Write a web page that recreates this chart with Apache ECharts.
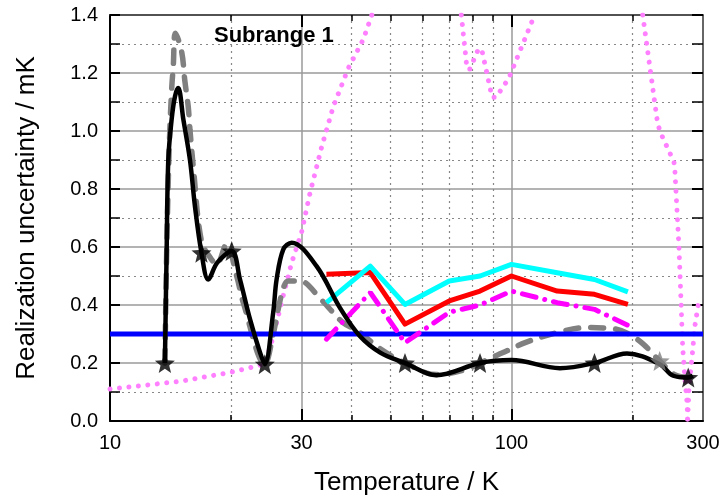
<!DOCTYPE html>
<html><head><meta charset="utf-8">
<script src="https://cdn.jsdelivr.net/npm/echarts@6/dist/echarts.min.js"></script>
<style>html,body{margin:0;padding:0;background:#fff}#c{width:723px;height:501px}</style>
</head><body><div id="c"></div>
<script>
// ---- tick labels / grid positions ----
const xTickLabels = [10, 30, 100, 300];
const xMajorGrid = [30, 100];
const xMinorGrid = [20, 40, 50, 60, 70, 80, 90, 200];

// ---- black solid smooth curve ----
const blackT = [13.7,13.84,13.97,14.24,14.52,14.79,15.23,15.82,16.28,16.9,17.57,18.5,20.1,21.08,22.32,23.64,24.3,25.5,26.0,27.02,28.35,32.7,37.4,41.9,47.1,54.3,65,83.5,100,132,161,194,234,253,275.6,283];
const blackU = [0.2,0.59,0.9,1.04,1.12,1.148,1.04,0.9,0.74,0.58,0.488,0.546,0.586,0.488,0.351,0.236,0.196,0.374,0.488,0.592,0.615,0.534,0.39,0.293,0.236,0.2,0.158,0.2,0.21,0.182,0.2,0.233,0.196,0.156,0.15,0.156];
// black star markers
const starT = [13.7,16.9,20.1,24.3,54.3,83.5,161,275.6];
const starU = [0.2,0.58,0.586,0.196,0.2,0.2,0.2,0.15];

// ---- grey dashed curve ----
const greyT = [13.7,13.85,14.05,14.24,14.38,14.55,15.08,15.37,15.66,15.82,16.12,16.9,17.9,18.45,19.5,20.68,21.48,24.3,25.5,26.8,27.8,29.7,33.5,38,41.5,47,54.3,65,77,88,95,109,130,154,180,196,213,234,255,275.6];
const greyU = [0.2,0.6,0.95,1.142,1.228,1.337,1.274,1.17,1.085,1.004,0.878,0.62,0.557,0.54,0.61,0.5,0.408,0.196,0.3,0.44,0.483,0.483,0.42,0.34,0.31,0.25,0.2,0.16,0.178,0.215,0.235,0.272,0.305,0.322,0.318,0.3,0.265,0.207,0.16,0.15];
const greyStarT = [234];
const greyStarU = [0.207];

// ---- pink dotted curve (null = leaves the plot) ----
const pinkT = [10,15,20,24.3,25.5,26.8,28.35,30,31.5,33.7,36,39.25,42.75,44.9,null,75.0,76.6,77.5,78.8,82.7,84.3,89.5,91.5,98.5,114.2,null,212.3,231.2,235,254,255.4,261.4,264.3,266.9,270.5,274.1,274.5,277,282.7,286.4,292];
const pinkU = [0.11,0.137,0.168,0.196,0.29,0.414,0.546,0.65,0.787,0.947,1.085,1.217,1.316,1.4,null,1.4,1.282,1.214,1.214,1.282,1.282,1.116,1.116,1.182,1.4,null,1.4,1.027,0.995,0.893,0.86,0.597,0.42,0.259,0.144,0.053,-0.01,0.12,0.242,0.328,0.402];

// ---- blue horizontal ----
const blueT = [10, 300];
const blueU = [0.3, 0.3];

// ---- red / cyan / magenta dash-dot ----
const colT = [34.6, 44.5, 54.3, 70, 83.5, 100, 130, 161, 195];
const redU = [0.506, 0.512, 0.334, 0.414, 0.448, 0.5, 0.448, 0.437, 0.402];
const cyanU = [0.408, 0.534, 0.402, 0.483, 0.5, 0.54, 0.511, 0.488, 0.445];
const magU = [0.282, 0.443, 0.27, 0.375, 0.4, 0.448, 0.408, 0.385, 0.33];

function pairs(xs, ys) {
  return xs.map((x, i) => (x === null || ys[i] === null) ? ['-', '-'] : [x, ys[i]]);
}

const FONT = 'Liberation Sans, Arial, sans-serif';
const starPath = 'path://M0,-10 L2.6,-3.4 L9.51,-3.09 L4.1,1.3 L5.88,8.09 L0,4.2 L-5.88,8.09 L-4.1,1.3 L-9.51,-3.09 L-2.6,-3.4 Z';

const xBase = { type: 'log', logBase: 10, min: 10, max: 300, gridIndex: 0 };
const chart = echarts.init(document.getElementById('c'), null, { renderer: 'canvas' });
chart.setOption({
  animation: false,
  backgroundColor: '#fff',
  title: {
    text: 'Subrange 1', left: 209, top: 20,
    textStyle: { fontFamily: FONT, fontSize: 22, fontWeight: 'bold', color: '#000' }
  },
  grid: { left: 110, right: 20, top: 15, bottom: 79, containLabel: false },
  xAxis: [
    Object.assign({}, xBase, {
      position: 'bottom',
      name: 'Temperature / K', nameLocation: 'middle', nameGap: 49,
      nameTextStyle: { fontFamily: FONT, fontSize: 26, color: '#000' },
      axisLine: { show: true, lineStyle: { color: '#000', width: 2 } },
      axisTick: { show: true, inside: true, length: 12, customValues: xMajorGrid, lineStyle: { color: '#000', width: 2 } },
      axisLabel: { show: true, customValues: xTickLabels, fontFamily: FONT, fontSize: 20, color: '#000', margin: 12 },
      splitLine: { show: true, lineStyle: { color: '#9a9a9a', width: 1.5 } },
      minorTick: { show: false }, minorSplitLine: { show: false }
    }),
    Object.assign({}, xBase, {
      position: 'bottom',
      axisLine: { show: false },
      axisTick: { show: true, inside: true, length: 6, customValues: xMinorGrid, lineStyle: { color: '#000', width: 1.5 } },
      axisLabel: { show: false },
      splitLine: { show: true, lineStyle: { color: '#888', width: 1.2, type: [2, 4] } }
    }),
    Object.assign({}, xBase, {
      position: 'top',
      axisLine: { show: true, lineStyle: { color: '#333', width: 1.5 } },
      axisTick: { show: true, inside: true, length: 12, customValues: xMajorGrid, lineStyle: { color: '#000', width: 2 } },
      axisLabel: { show: false }, splitLine: { show: false }
    }),
    Object.assign({}, xBase, {
      position: 'top',
      axisLine: { show: false },
      axisTick: { show: true, inside: true, length: 6, customValues: xMinorGrid, lineStyle: { color: '#000', width: 1.5 } },
      axisLabel: { show: false }, splitLine: { show: false }
    })
  ],
  yAxis: [
    {
      type: 'value', min: 0, max: 1.4, interval: 0.2, position: 'left',
      name: 'Realization uncertainty / mK', nameLocation: 'middle', nameGap: 70, nameRotate: 90,
      nameTextStyle: { fontFamily: FONT, fontSize: 26, color: '#000' },
      axisLine: { show: true, lineStyle: { color: '#000', width: 2 } },
      axisTick: { show: true, inside: true, length: 10, lineStyle: { color: '#000', width: 2 } },
      minorTick: { show: true, splitNumber: 2, length: 10, lineStyle: { color: '#000', width: 1.5 } },
      axisLabel: { fontFamily: FONT, fontSize: 20, color: '#000', margin: 12, formatter: v => v.toFixed(1) },
      splitLine: { show: true, lineStyle: { color: '#9a9a9a', width: 1.5 } },
      minorSplitLine: { show: true, lineStyle: { color: '#888', width: 1.2, type: [2, 4] } }
    },
    {
      type: 'value', min: 0, max: 1.4, interval: 0.2, position: 'right',
      axisLine: { show: true, lineStyle: { color: '#333', width: 1.5 } },
      axisTick: { show: true, inside: true, length: 11, lineStyle: { color: '#000', width: 2 } },
      minorTick: { show: true, splitNumber: 2, length: 11, lineStyle: { color: '#000', width: 1.5 } },
      axisLabel: { show: false },
      splitLine: { show: false }, minorSplitLine: { show: false }
    }
  ],
  series: [
    {
      type: 'line', name: 'pink', data: pairs(pinkT, pinkU), connectNulls: false,
      showSymbol: false, symbol: 'none', clip: true, z: 2,
      lineStyle: { color: '#ff80ff', width: 5, type: [0.01, 9.5], cap: 'round' }
    },
    {
      type: 'line', name: 'grey', data: pairs(greyT, greyU), smooth: 0.35,
      showSymbol: false, symbol: 'none', z: 3,
      lineStyle: { color: '#808080', width: 5.5, type: [13, 12], cap: 'round' }
    },
    {
      type: 'line', name: 'blue', data: pairs(blueT, blueU),
      showSymbol: false, symbol: 'none', z: 4,
      lineStyle: { color: '#0000ff', width: 5 }
    },
    {
      type: 'line', name: 'red', data: pairs(colT, redU),
      showSymbol: false, symbol: 'none', z: 5,
      lineStyle: { color: '#ff0000', width: 5, join: 'round' }
    },
    {
      type: 'line', name: 'cyan', data: pairs(colT, cyanU),
      showSymbol: false, symbol: 'none', z: 5,
      lineStyle: { color: '#00ffff', width: 5, join: 'round' }
    },
    {
      type: 'line', name: 'magenta', data: pairs(colT, magU),
      showSymbol: false, symbol: 'none', z: 5,
      lineStyle: { color: '#ff00ff', width: 5, type: [14, 9, 0.01, 9], cap: 'round' }
    },
    {
      type: 'line', name: 'black', data: pairs(blackT, blackU), smooth: 0.35,
      showSymbol: false, symbol: 'none', z: 6,
      lineStyle: { color: '#000', width: 4.5 }
    },
    {
      type: 'scatter', name: 'greyStars', data: pairs(greyStarT, greyStarU),
      symbol: starPath, symbolSize: 20, z: 7,
      itemStyle: { color: '#808080' }
    },
    {
      type: 'scatter', name: 'stars', data: pairs(starT, starU),
      symbol: starPath, symbolSize: 20, z: 8,
      itemStyle: { color: '#000' }
    }
  ]
});
</script></body></html>
